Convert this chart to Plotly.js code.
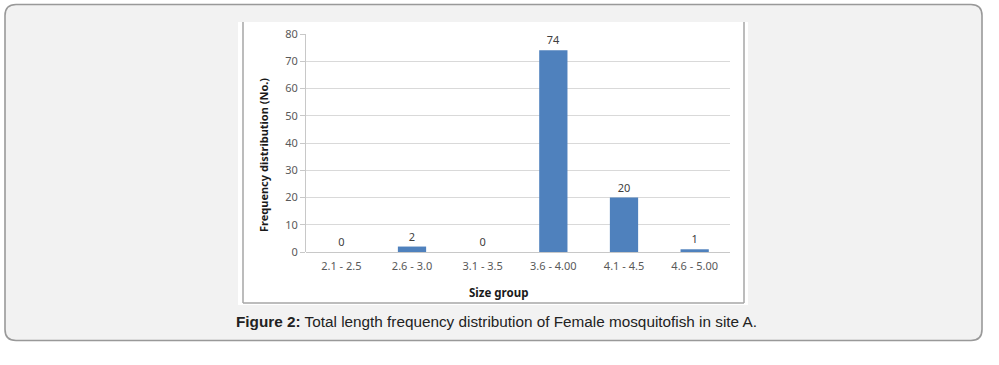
<!DOCTYPE html>
<html>
<head>
<meta charset="utf-8">
<script src="https://cdn.plot.ly/plotly-3.0.1.min.js"></script>
<style>html,body{margin:0;padding:0;background:#fff;}#chart{width:999px;height:365px;}</style>
</head>
<body>
<div id="chart"></div>
<script>
const categories = ["2.1 - 2.5", "2.6 - 3.0", "3.1 - 3.5", "3.6 - 4.00", "4.1 - 4.5", "4.6 - 5.00"];
const frequencies = [0, 2, 0, 74, 20, 1];
const yTickValues = [0, 10, 20, 30, 40, 50, 60, 70, 80];
const xAxisTitle = "Size group";
const yAxisTitle = "Frequency distribution (No.)";
const captionText = "<b>Figure 2:</b> Total length frequency distribution of Female mosquitofish in site A.";

const W = 999, H = 365;
const PL = 306, PR = 730, PT = 34, PB = 252;
const fx = p => (p - PL) / (PR - PL);
const fy = p => (PB - p) / (PB - PT);

function roundRect(x1, y1, x2, y2, r) {
  const P = (x, y) => fx(x) + "," + fy(y);
  return "M" + P(x1 + r, y1) + " L" + P(x2 - r, y1) + " Q" + P(x2, y1) + " " + P(x2, y1 + r) +
    " L" + P(x2, y2 - r) + " Q" + P(x2, y2) + " " + P(x2 - r, y2) +
    " L" + P(x1 + r, y2) + " Q" + P(x1, y2) + " " + P(x1, y2 - r) +
    " L" + P(x1, y1 + r) + " Q" + P(x1, y1) + " " + P(x1 + r, y1) + " Z";
}

const shapes = [
  {type: "path", xref: "paper", yref: "paper", layer: "below", path: roundRect(5, 4.5, 982, 340.5, 11),
   fillcolor: "#f2f2f2", line: {color: "#999999", width: 1.6}},
  {type: "rect", xref: "paper", yref: "paper", layer: "below", x0: fx(238), x1: fx(748), y0: fy(22), y1: fy(305),
   fillcolor: "#ffffff", line: {width: 0}},
  {type: "line", xref: "paper", yref: "paper", layer: "below", x0: fx(243), x1: fx(243), y0: fy(22), y1: fy(303),
   line: {color: "#a6a6a6", width: 1.5}},
  {type: "line", xref: "paper", yref: "paper", layer: "below", x0: fx(744), x1: fx(744), y0: fy(22), y1: fy(303),
   line: {color: "#a6a6a6", width: 1.5}},
  {type: "line", xref: "paper", yref: "paper", layer: "below", x0: fx(243), x1: fx(744), y0: fy(303), y1: fy(303),
   line: {color: "#a6a6a6", width: 1.5}}
];

const annotations = [
  {xref: "paper", yref: "paper", x: fx(498.5), y: fy(292), text: "<b>" + xAxisTitle + "</b>", showarrow: false,
   xanchor: "center", yanchor: "middle", font: {family: "Noto Sans", size: 11.5, color: "#1a1a1a"}},
  {xref: "paper", yref: "paper", x: fx(263), y: fy(155), text: "<b>" + yAxisTitle + "</b>", showarrow: false,
   textangle: -90, xanchor: "center", yanchor: "middle", font: {family: "Noto Sans", size: 11, color: "#1a1a1a"}},
  {xref: "paper", yref: "paper", x: fx(496), y: fy(321), text: captionText, showarrow: false,
   xanchor: "center", yanchor: "middle", font: {family: "Liberation Sans", size: 15.3, color: "#222222"}}
];

const data = [{
  type: "bar",
  x: categories,
  y: frequencies,
  marker: {color: "#4f81bd", line: {width: 0}},
  text: frequencies.map(String),
  textposition: "outside",
  cliponaxis: false,
  textfont: {family: "Noto Sans", size: 11, color: "#404040"},
  hoverinfo: "x+y"
}];

const layout = {
  width: W, height: H,
  margin: {l: PL, r: W - PR, t: PT, b: H - PB, pad: 0},
  paper_bgcolor: "#ffffff",
  plot_bgcolor: "rgba(0,0,0,0)",
  showlegend: false,
  bargap: 0.6,
  xaxis: {
    type: "category",
    showgrid: false,
    showline: false,
    ticks: "",
    tickfont: {family: "Noto Sans", size: 11, color: "#595959"},
    ticklabelstandoff: 6,
    zeroline: false
  },
  yaxis: {
    range: [0, 80],
    tickvals: yTickValues,
    ticktext: yTickValues.map(String),
    showgrid: true,
    gridcolor: "#d9d9d9",
    gridwidth: 1,
    showline: true,
    linecolor: "#c8c8c8",
    linewidth: 1,
    ticks: "outside",
    ticklen: 5,
    tickcolor: "#c8c8c8",
    tickfont: {family: "Noto Sans", size: 11, color: "#595959"},
    zeroline: true,
    zerolinecolor: "#c8c8c8",
    zerolinewidth: 1
  },
  shapes: shapes,
  annotations: annotations
};

Plotly.newPlot("chart", data, layout, {displayModeBar: false, staticPlot: true});
</script>
</body>
</html>
